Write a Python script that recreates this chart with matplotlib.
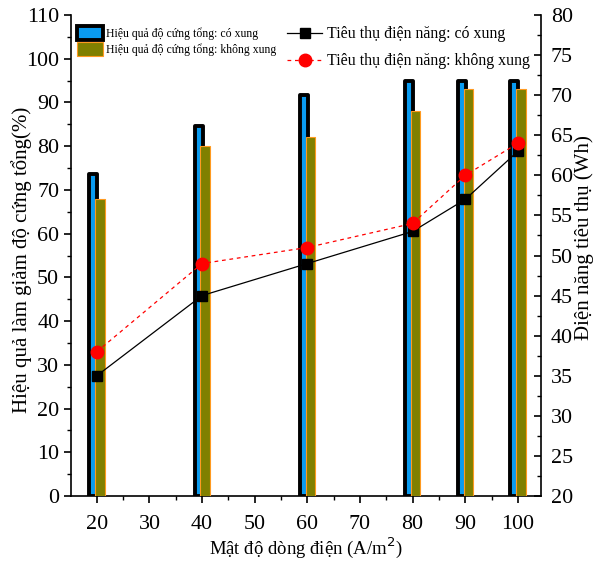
import matplotlib
matplotlib.use("Agg")
import matplotlib.pyplot as plt
from matplotlib.patches import Patch
from matplotlib.lines import Line2D
from matplotlib.ticker import MultipleLocator

plt.rcParams['font.family'] = ['Liberation Serif', 'DejaVu Serif']

current_density = [20, 40, 60, 80, 90, 100]
eff_pulse = [73.6, 84.6, 91.7, 94.8, 95.0, 95.0]
eff_nopulse = [68, 80, 82, 88, 93, 93]
energy_pulse = [35, 45, 49, 53, 57, 63]
energy_nopulse = [38, 49, 51, 54, 60, 64]

lbl_bar1 = 'Hiệu quả độ cứng tổng: có xung'
lbl_bar2 = 'Hiệu quả độ cứng tổng: không xung'
lbl_line1 = 'Tiêu thụ điện năng: có xung'
lbl_line2 = 'Tiêu thụ điện năng: không xung'

BLUE = '#0A9BF0'
OLIVE = '#808000'
ORANGE = '#FF9A20'

fig = plt.figure(figsize=(5.96, 5.65), dpi=100)
ax = fig.add_axes([0.1191, 0.1221, 0.7886, 0.8513])

ax.bar([x - 0.65 for x in current_density], eff_pulse, width=1.55, color=BLUE,
       edgecolor='black', linewidth=2.8, joinstyle='round', zorder=2)
ax.bar([x + 0.6 for x in current_density], eff_nopulse, width=1.8, color=OLIVE,
       edgecolor=ORANGE, linewidth=0.8, zorder=3)

ax.set_xlim(15.1, 104.4)
ax.set_ylim(0, 110)
ax.xaxis.set_major_locator(MultipleLocator(10))
ax.xaxis.set_minor_locator(MultipleLocator(5))
ax.yaxis.set_major_locator(MultipleLocator(10))
ax.yaxis.set_minor_locator(MultipleLocator(5))
ax.spines['top'].set_visible(False)
ax.spines['right'].set_visible(False)
for s in ax.spines.values():
    s.set_linewidth(1.2)
ax.tick_params(which='major', direction='out', length=5, width=1.2, labelsize=15.8)
ax.tick_params(axis='x', which='major', pad=9)
ax.tick_params(which='minor', direction='out', length=3, width=1.0)
ax.set_xlabel('Mật độ dòng điện (A/m$^2$)', fontsize=13.5, labelpad=1)
ax.set_ylabel('Hiệu quả làm giảm độ cứng tổng(%)', fontsize=15)
ax.yaxis.set_label_coords(-0.084, 0.491)

ax2 = ax.twinx()
ax2.plot(current_density, energy_pulse, color='black', linewidth=0.9, marker='s',
         markersize=7.5, zorder=5)
ax2.plot(current_density, energy_nopulse, color='red', linewidth=0.9, linestyle=(0, (3, 3)),
         marker='o', markersize=9, zorder=6)
ax2.set_ylim(20, 80)
ax2.yaxis.set_major_locator(MultipleLocator(5))
ax2.yaxis.set_minor_locator(MultipleLocator(2.5))
ax2.spines['top'].set_visible(False)
ax2.spines['left'].set_visible(False)
ax2.spines['bottom'].set_visible(False)
ax2.spines['right'].set_linewidth(1.2)
ax2.tick_params(which='major', direction='in', length=5, width=1.2, labelsize=15.8, pad=7)
ax2.tick_params(which='minor', direction='in', length=3, width=1.0)
ax2.set_ylabel('Điện năng tiêu thụ (Wh)', fontsize=15)
ax2.yaxis.set_label_coords(1.071, 0.538)

h1 = [Patch(facecolor=BLUE, edgecolor='black', linewidth=2.8, joinstyle='round'),
      Patch(facecolor=OLIVE, edgecolor=ORANGE, linewidth=0.8)]
leg1 = ax2.legend(h1, [lbl_bar1, lbl_bar2], loc='upper left', bbox_to_anchor=(0.0, 0.99),
                  frameon=False, fontsize=8.5, handlelength=2.2, handleheight=1.5,
                  handletextpad=0.25, labelspacing=0.15, borderaxespad=0.2, borderpad=0.3)
ax2.add_artist(leg1)
h2 = [Line2D([], [], color='black', linewidth=0.9, marker='s', markersize=7.5),
      Line2D([], [], color='red', linewidth=0.9, linestyle=(0, (3, 3)), marker='o', markersize=9)]
ax2.legend(h2, [lbl_line1, lbl_line2], loc='upper right', bbox_to_anchor=(1.0, 1.0),
           frameon=False, fontsize=11.4, handlelength=2.2, handletextpad=0.3,
           labelspacing=0.7, borderaxespad=0.2, borderpad=0.5)

fig.savefig('out.png', dpi=100)
